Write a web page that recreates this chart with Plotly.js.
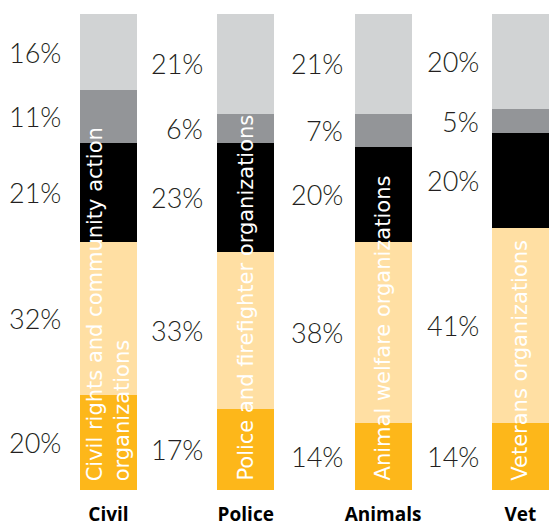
<!DOCTYPE html>
<html>
<head>
<meta charset="utf-8">
<script src="https://cdn.plot.ly/plotly-3.0.1.min.js"></script>
<style>html,body{margin:0;padding:0;background:#fff;}#chart{width:550px;height:529px;}</style>
</head>
<body>
<div id="chart"></div>
<script>
const categories = ["Civil", "Police", "Animals", "Vet"];
const innerLabels = [
  "Civil rights and community action<br>organizations",
  "Police and firefighter organizations",
  "Animal welfare organizations",
  "Veterans organizations"
];
const seg1 = [20, 17, 14, 14]; // gold (bottom)
const seg2 = [32, 33, 38, 41]; // peach
const seg3 = [21, 23, 20, 20]; // black
const seg4 = [11, 6, 7, 5];    // dark gray
const seg5 = [16, 21, 21, 20]; // light gray (top)

const segs = [seg1, seg2, seg3, seg4, seg5];
const colors = ["#FDB71A", "#FFDFA3", "#000000", "#939598", "#D1D3D4"];
const xs = categories.map((c, i) => i);
const barW = 0.415;

const traces = segs.map((s, k) => ({
  type: "bar",
  x: xs,
  y: s,
  width: barW,
  marker: {color: colors[k], line: {width: 0}},
  hoverinfo: "skip",
  showlegend: false
}));

const annotations = [];
const labelShift = [-17, -12, -10, -11];
xs.forEach((x, i) => {
  let base = 0;
  segs.forEach((s) => {
    const v = s[i];
    annotations.push({
      x: x - barW / 2, y: base + v / 2, xref: "x", yref: "y",
      text: v + "%", showarrow: false, xanchor: "right", yanchor: "middle",
      xshift: labelShift[i],
      font: {family: "Lato, sans-serif", size: 27, color: "#231F20", weight: 300}
    });
    base += v;
  });
  annotations.push({
    x: x, y: 1.5, xref: "x", yref: "y",
    text: innerLabels[i], showarrow: false, textangle: -90,
    xanchor: "center", yanchor: "bottom", align: "left",
    font: {family: "'DejaVu Sans', sans-serif", size: 21, color: "#FFFFFF"}
  });
});

const layout = {
  width: 550, height: 529,
  margin: {l: 0, r: 0, t: 14, b: 39, pad: 0},
  paper_bgcolor: "#fff", plot_bgcolor: "#fff",
  barmode: "stack",
  bargap: 0,
  xaxis: {
    range: [-0.79, 3.216], tickvals: xs, ticktext: categories,
    showgrid: false, zeroline: false, showline: false, ticks: "",
    ticklabelstandoff: 11,
    tickfont: {family: "'Open Sans', sans-serif", size: 19, color: "#000", weight: 700}
  },
  yaxis: {range: [0, 100], visible: false, showgrid: false, zeroline: false},
  annotations: annotations
};

Plotly.newPlot("chart", traces, layout, {staticPlot: true, displayModeBar: false});
</script>
</body>
</html>
